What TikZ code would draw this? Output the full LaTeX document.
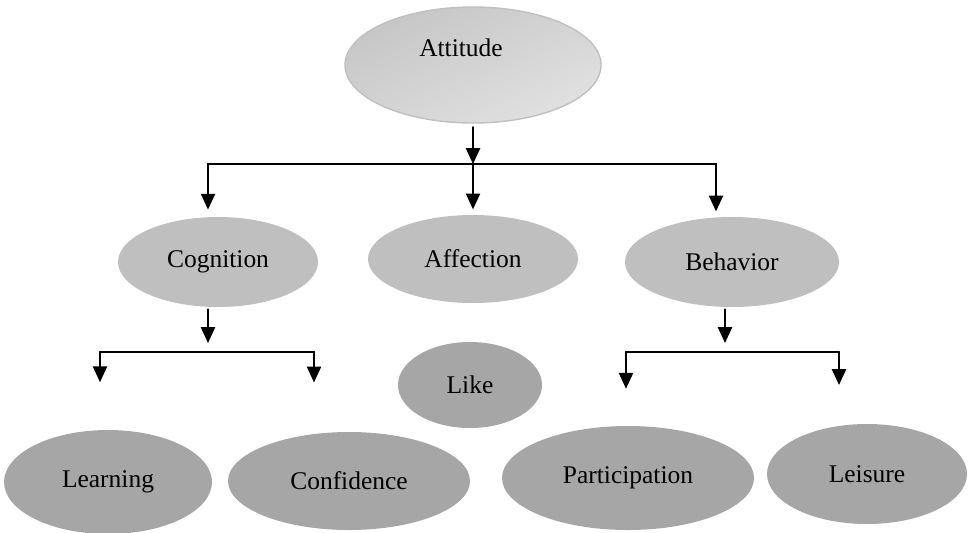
\documentclass[tikz,border=0pt]{standalone}
\usepackage{fontspec}
\setmainfont{Liberation Serif}
\usepackage{tikz}
\usetikzlibrary{calc,shapes.geometric,arrows.meta}
\usepackage{xcolor}
\definecolor{topgray}{RGB}{192,192,192}
\definecolor{midgray}{RGB}{191,191,191}
\definecolor{lowgray}{RGB}{166,166,166}

\begin{document}
\begin{tikzpicture}
  \tikzstyle{myline}=[very thick, line cap=round, line join=round];
  \tikzstyle{mytext}=[ellipse, inner sep=0pt, text=black,
    font=\fontsize{14.5}{17}\selectfont];
  \tikzstyle{myconn}=[myline, ->, >={Triangle[length=9pt, width=8pt]}];
  \tikzstyle{midnode}=[mytext, fill=midgray];
  \tikzstyle{lownode}=[mytext, fill=lowgray];
  %
  \useasboundingbox (0, 0) rectangle (19.46, 10.64);
  %
  % top
  \node[mytext, draw=topgray, line width=0.8pt, shading=axis,
    left color=gray!45, middle color=gray!4, right color=gray!24,
    shading angle=25, minimum width=5.12cm, minimum height=2.32cm]
    (att) at (9.46, 9.34) {Attitude\hspace{0.48cm}\rule[-0.7cm]{0pt}{0.7cm}};
  %
  % second row
  \node[midnode, minimum width=4.0cm, minimum height=1.8cm]
    (cog) at (4.36, 5.40) {Cognition};
  \node[midnode, minimum width=4.2cm, minimum height=1.76cm]
    (aff) at (9.46, 5.46) {Affection};
  \node[midnode, minimum width=4.28cm, minimum height=1.8cm]
    (beh) at (14.64, 5.40) {Behavior};
  %
  % third row
  \node[lownode, minimum width=2.88cm, minimum height=1.72cm]
    (like) at (9.40, 2.94) {Like};
  \node[lownode, minimum width=4.16cm, minimum height=2.08cm]
    (lrn) at (2.16, 1.00) {Learning};
  \node[lownode, minimum width=4.84cm, minimum height=1.96cm]
    (conf) at (6.98, 1.02) {Confidence};
  \node[lownode, minimum width=5.04cm, minimum height=2.08cm]
    (part) at (12.56, 1.08) {Participation};
  \node[lownode, minimum width=4.0cm, minimum height=2.0cm]
    (leis) at (17.34, 1.16) {Leisure};
  %
  % branch bars
  \coordinate (bar1l) at (4.16, 7.36);
  \coordinate (bar1r) at (14.32, 7.36);
  \coordinate (bar2l) at (2.0, 3.60);
  \coordinate (bar2r) at (6.28, 3.60);
  \coordinate (bar3l) at (12.52, 3.60);
  \coordinate (bar3r) at (16.78, 3.60);
  %
  % connections from attitude
  \draw[myconn] ([yshift=-2pt]att.south) -- (att.south |- bar1l);
  \draw[myline] (bar1l) -- (bar1r);
  \draw[myconn, shorten >=4pt] (bar1l) -- (bar1l |- cog.north);
  \draw[myconn, shorten >=3pt] (att.south |- bar1l) -- (aff.north);
  \draw[myconn, shorten >=3pt] (bar1r) -- (bar1r |- beh.north);
  %
  % connections from cognition
  \draw[myconn] ($(cog.south) + (-0.2, -0.04)$)
  -- ($(cog.south |- bar2l) + (-0.2, 0.18)$);
  \draw[myline] (bar2l) -- (bar2r);
  \draw[myconn, shorten >=27pt] (bar2l) -- (bar2l |- lrn.north);
  \draw[myconn, shorten >=28pt] (bar2r) -- (bar2r |- conf.north);
  %
  % connections from behavior
  \draw[myconn] ($(beh.south) + (-0.14, -0.04)$)
  -- ($(beh.south |- bar3l) + (-0.14, 0.18)$);
  \draw[myline] (bar3l) -- (bar3r);
  \draw[myconn, shorten >=21pt] (bar3l) -- (bar3l |- part.north);
  \draw[myconn, shorten >=22pt] (bar3r) -- (bar3r |- leis.north);
\end{tikzpicture}
\end{document}
